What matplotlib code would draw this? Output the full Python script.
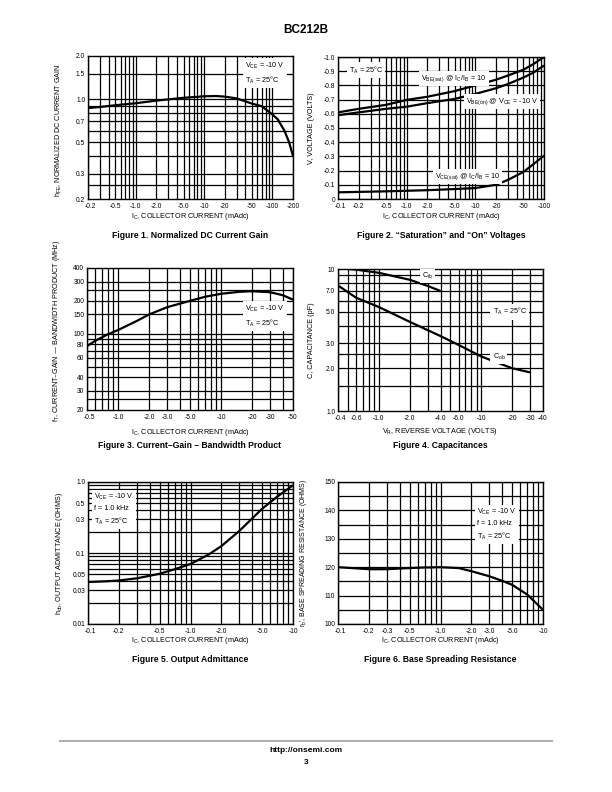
import matplotlib.pyplot as plt
import matplotlib.transforms as mtransforms
import numpy as np
from matplotlib.ticker import NullLocator

plt.rcParams["font.family"] = ["Liberation Sans", "DejaVu Sans"]
plt.rcParams["mathtext.default"] = "regular"

# Figure 1. Normalized DC current gain
fig1_ic = [-0.2, -0.3, -0.5, -1.0, -2.0, -5.0, -10, -15, -20, -30, -50, -70, -100, -120, -150, -175, -200]
fig1_hfe = [0.865, 0.88, 0.905, 0.935, 0.975, 1.02, 1.045, 1.05, 1.04, 1.01, 0.93, 0.89, 0.78, 0.72, 0.60, 0.50, 0.40]
fig1_xticks = [-0.2, -0.5, -1.0, -2.0, -5.0, -10, -20, -50, -100, -200]
fig1_yticks = [0.2, 0.3, 0.5, 0.7, 1.0, 1.5, 2.0]

# Figure 2. "Saturation" and "On" voltages
fig2_ic = [-0.1, -0.2, -0.5, -1.0, -2.0, -5.0, -10, -20, -30, -50, -70, -100]
fig2_vbe_sat = [-0.61, -0.635, -0.663, -0.698, -0.72, -0.76, -0.80, -0.84, -0.87, -0.91, -0.95, -1.0]
fig2_vbe_on = [-0.59, -0.61, -0.635, -0.65, -0.675, -0.705, -0.74, -0.78, -0.81, -0.855, -0.89, -0.94]
fig2_vce_sat = [-0.047, -0.05, -0.054, -0.058, -0.062, -0.07, -0.077, -0.10, -0.135, -0.19, -0.245, -0.305]
fig2_xticks = [-0.1, -0.2, -0.5, -1.0, -2.0, -5.0, -10, -20, -50, -100]
fig2_yticks = [0, -0.1, -0.2, -0.3, -0.4, -0.5, -0.6, -0.7, -0.8, -0.9, -1.0]

# Figure 3. Current-gain - bandwidth product
fig3_ic = [-0.5, -0.6, -0.8, -1.0, -1.5, -2.0, -3.0, -5.0, -7.0, -10, -15, -20, -30, -40, -50]
fig3_ft = [77, 86, 99, 108, 130, 150, 175, 200, 218, 232, 242, 245, 240, 225, 205]
fig3_xticks = [-0.5, -1.0, -2.0, -3.0, -5.0, -10, -20, -30, -50]
fig3_yticks = [20, 30, 40, 60, 80, 100, 150, 200, 300, 400]

# Figure 4. Capacitances
fig4_vr_cib = [-0.5, -0.6, -1.0, -2.0, -3.0, -4.0]
fig4_cib = [10.0, 9.9, 9.4, 8.4, 7.6, 7.0]
fig4_vr_cob = [-0.4, -0.6, -1.0, -2.0, -4.0, -6.0, -10, -20, -30]
fig4_cob = [7.65, 6.28, 5.4, 4.25, 3.37, 2.92, 2.42, 2.0, 1.87]
fig4_xticks = [-0.4, -0.6, -1.0, -2.0, -4.0, -6.0, -10, -20, -30, -40]
fig4_yticks = [1.0, 2.0, 3.0, 5.0, 7.0, 10]

# Figure 5. Output admittance
fig5_ic = [-0.1, -0.15, -0.2, -0.3, -0.5, -0.7, -1.0, -1.5, -2.0, -3.0, -5.0, -7.0, -10]
fig5_hob = [0.039, 0.040, 0.041, 0.044, 0.051, 0.059, 0.070, 0.095, 0.125, 0.205, 0.42, 0.62, 0.9]
fig5_xticks = [-0.1, -0.2, -0.5, -1.0, -2.0, -5.0, -10]
fig5_yticks = [0.01, 0.03, 0.05, 0.1, 0.3, 0.5, 1.0]

# Figure 6. Base spreading resistance
fig6_ic = [-0.1, -0.15, -0.2, -0.3, -0.5, -0.7, -1.0, -1.5, -2.0, -3.0, -4.0, -5.0, -7.0, -10]
fig6_rb = [120, 119.6, 119.3, 119.3, 119.7, 119.9, 120, 119.7, 118.6, 116.8, 115.2, 113.8, 110.4, 105]
fig6_xticks = [-0.1, -0.2, -0.3, -0.5, -1.0, -2.0, -3.0, -5.0, -10]
fig6_yticks = [100, 110, 120, 130, 140, 150]

W, H = 612, 792
fig = plt.figure(figsize=(W / 100, H / 100), dpi=100)
TICK_FS = 4.8
LAB_FS = 5.2


def px_axes(left, top, right, bottom):
    return fig.add_axes([left / W, 1 - bottom / H, (right - left) / W, (bottom - top) / H])


def ptext(x, y, s, **kw):
    fig.text(x / W, 1 - y / H, s, **kw)


def log_grid(lo, hi):
    out = []
    for e in range(-3, 4):
        for m in range(1, 10):
            v = m * 10.0 ** e
            if lo * 0.999 <= v <= hi * 1.001:
                out.append(v)
    return out


def fmt(v):
    if v == 0:
        return "0"
    s = f"{abs(v):g}"
    if abs(v) < 10 and "." not in s:
        s += ".0"
    return ("-" if v < 0 else "") + s


def setup(ax, xlim, ylim, xticks, yticks, xgrid, ygrid, ylog=True, ylabels=None):
    ax.set_xscale("log")
    if ylog:
        ax.set_yscale("log")
    ax.set_xlim(*xlim)
    ax.set_ylim(*ylim)
    for g in xgrid:
        ax.axvline(g, color="black", lw=0.9, zorder=1)
    for g in ygrid:
        ax.axhline(g, color="black", lw=0.9, zorder=1)
    ax.set_xticks([abs(t) for t in xticks], [fmt(t) for t in xticks])
    ax.set_yticks(yticks, ylabels or [fmt(t) for t in yticks])
    ax.xaxis.set_minor_locator(NullLocator())
    ax.yaxis.set_minor_locator(NullLocator())
    ax.tick_params(length=0, labelsize=TICK_FS)
    ax.tick_params(axis="x", pad=3)
    ax.tick_params(axis="y", pad=2)
    # nudge the first x label right so it clears the lowest y label
    first = ax.get_xticklabels()[0]
    first.set_transform(first.get_transform() +
                        mtransforms.ScaledTranslation(2.5 / 100, 0, fig.dpi_scale_trans))
    for sp in ax.spines.values():
        sp.set_linewidth(1.0)


def box_text(ax, x, y, s, ha="left"):
    ax.text(x, y, s, transform=ax.transAxes, fontsize=LAB_FS, ha=ha, va="center",
            linespacing=1.5, zorder=5,
            bbox=dict(facecolor="white", edgecolor="none", pad=1.5))


CURVE = dict(color="black", lw=1.6, zorder=3, solid_capstyle="butt")
CAP = dict(fontsize=6.2, fontweight="bold", ha="center", va="center")

ptext(306, 30, "BC212B", fontsize=8.5, fontweight="bold", ha="center", va="center")

# ---- Figure 1
ax = px_axes(88, 56, 293, 199)
setup(ax, (0.2, 200), (0.2, 2.0), fig1_xticks, fig1_yticks,
      log_grid(0.2, 200), [0.25, 0.3, 0.4, 0.5, 0.6, 0.7, 0.8, 0.9, 1.0, 1.5])
ax.plot(np.abs(fig1_ic), fig1_hfe, **CURVE)
box_text(ax, 0.765, 0.88, "V$_{CE}$ = -10 V\nT$_A$ = 25\u00b0C")
ax.set_ylabel("h$_{FE}$, NORMALIZED DC CURRENT GAIN", fontsize=LAB_FS)
ax.yaxis.set_label_coords(-0.115, 0.48)
ptext(190, 217, "I$_C$, COLLECTOR CURRENT (mAdc)", fontsize=LAB_FS, ha="center", va="center")
ptext(190, 236, "Figure 1. Normalized DC Current Gain", **CAP)

# ---- Figure 2
ax = px_axes(338, 57, 544, 199)
setup(ax, (0.1, 100), (0, -1.0), fig2_xticks, fig2_yticks,
      log_grid(0.1, 100), fig2_yticks, ylog=False)
ax.plot(np.abs(fig2_ic), fig2_vbe_sat, **CURVE)
ax.plot(np.abs(fig2_ic), fig2_vbe_on, **CURVE)
ax.plot(np.abs(fig2_ic), fig2_vce_sat, **CURVE)
box_text(ax, 0.053, 0.909, "T$_A$ = 25\u00b0C")
box_text(ax, 0.405, 0.851, "V$_{BE(sat)}$ @ I$_C$/I$_B$ = 10")
box_text(ax, 0.62, 0.686, "V$_{BE(on)}$ @ V$_{CE}$ = -10 V")
box_text(ax, 0.469, 0.158, "V$_{CE(sat)}$ @ I$_C$/I$_B$ = 10")
ax.set_ylabel("V, VOLTAGE (VOLTS)", fontsize=LAB_FS)
ax.yaxis.set_label_coords(-0.11, 0.5)
ptext(441, 217, "I$_C$, COLLECTOR CURRENT (mAdc)", fontsize=LAB_FS, ha="center", va="center")
ptext(441, 236, "Figure 2. \u201cSaturation\u201d and \u201cOn\u201d Voltages", **CAP)

# ---- Figure 3
ax = px_axes(87, 268, 293, 410)
setup(ax, (0.5, 50), (20, 400), fig3_xticks, fig3_yticks,
      log_grid(0.5, 50), [25, 30, 40, 50, 60, 70, 80, 90, 100, 150, 200, 250, 300])
ax.plot(np.abs(fig3_ic), fig3_ft, **CURVE)
box_text(ax, 0.766, 0.66, "V$_{CE}$ = -10 V\nT$_A$ = 25\u00b0C")
ax.set_ylabel("f$_T$, CURRENT\u2013GAIN \u2014 BANDWIDTH PRODUCT (MHz)", fontsize=LAB_FS)
ax.yaxis.set_label_coords(-0.12, 0.56)
ptext(190, 433, "I$_C$, COLLECTOR CURRENT (mAdc)", fontsize=LAB_FS, ha="center", va="center")
ptext(190, 446, "Figure 3. Current\u2013Gain \u2013 Bandwidth Product", **CAP)

# ---- Figure 4
ax = px_axes(338, 269, 543, 411)
setup(ax, (0.4, 40), (1.0, 10), fig4_xticks, fig4_yticks,
      log_grid(0.4, 40), [1.5, 2.0, 2.5, 3.0, 4.0, 5.0, 6.0, 7.0, 8.0, 9.0])
ax.plot(np.abs(fig4_vr_cib), fig4_cib, **CURVE)
ax.plot(np.abs(fig4_vr_cob), fig4_cob, **CURVE)
box_text(ax, 0.438, 0.949, "C$_{ib}$", ha="center")
box_text(ax, 0.754, 0.698, "T$_A$ = 25\u00b0C")
box_text(ax, 0.754, 0.384, "C$_{ob}$")
ax.set_ylabel("C, CAPACITANCE (pF)", fontsize=LAB_FS)
ax.yaxis.set_label_coords(-0.113, 0.5)
ptext(440, 432, "V$_R$, REVERSE VOLTAGE (VOLTS)", fontsize=LAB_FS, ha="center", va="center")
ptext(440, 446, "Figure 4. Capacitances", **CAP)

# ---- Figure 5
ax = px_axes(88, 482, 293, 624)
setup(ax, (0.1, 10), (0.01, 1.0), fig5_xticks, fig5_yticks,
      log_grid(0.1, 10), log_grid(0.01, 1.0))
ax.plot(np.abs(fig5_ic), fig5_hob, **CURVE)
box_text(ax, 0.03, 0.805, "V$_{CE}$ = -10 V\nf = 1.0 kHz\nT$_A$ = 25\u00b0C")
ax.set_ylabel("h$_{ob}$, OUTPUT ADMITTANCE (OHMS)", fontsize=LAB_FS)
ax.yaxis.set_label_coords(-0.11, 0.5)
ptext(190, 640, "I$_C$, COLLECTOR CURRENT (mAdc)", fontsize=LAB_FS, ha="center", va="center")
ptext(190, 660, "Figure 5. Output Admittance", **CAP)

# ---- Figure 6
ax = px_axes(338, 482, 543, 624)
setup(ax, (0.1, 10), (100, 150), fig6_xticks, fig6_yticks,
      log_grid(0.1, 10), list(range(100, 151, 5)), ylog=False,
      ylabels=[str(t) for t in fig6_yticks])
ax.plot(np.abs(fig6_ic), fig6_rb, **CURVE)
box_text(ax, 0.678, 0.70, "V$_{CE}$ = -10 V\nf = 1.0 kHz\nT$_A$ = 25\u00b0C")
ax.set_ylabel("r$_b$\u2032, BASE SPREADING RESISTANCE (OHMS)", fontsize=5.0)
ax.yaxis.set_label_coords(-0.14, 0.5)
ptext(440, 640, "I$_C$, COLLECTOR CURRENT (mAdc)", fontsize=LAB_FS, ha="center", va="center")
ptext(440, 660, "Figure 6. Base Spreading Resistance", **CAP)

# footer
fig.add_artist(plt.Line2D([60 / W, 552 / W], [1 - 741 / H, 1 - 741 / H], color="#b0b0b0", lw=1.5))
ptext(306, 751, "http://onsemi.com", fontsize=6, fontweight="bold", ha="center", va="center")
ptext(306, 762, "3", fontsize=6, fontweight="bold", ha="center", va="center")

fig.savefig("out.png", dpi=100)
